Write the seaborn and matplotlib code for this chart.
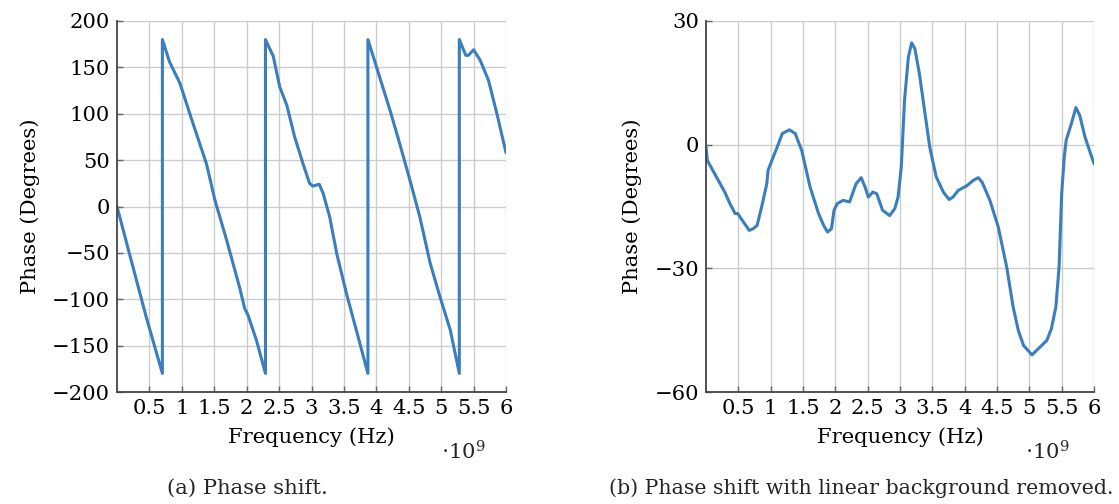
import numpy as np
import pandas as pd
import matplotlib
matplotlib.use("Agg")
import matplotlib.pyplot as plt
import seaborn as sns

# ---- data (frequency in units of 1e9 Hz) ----
freq_a = [0.0, 0.17, 0.45, 0.70, 0.70, 0.81, 0.97, 1.17, 1.38, 1.51, 1.69, 1.89, 1.97, 2.02,
          2.15, 2.29, 2.29, 2.41, 2.51, 2.62, 2.74, 2.87, 2.97, 3.02, 3.12, 3.18, 3.28, 3.39,
          3.54, 3.69, 3.87, 3.87, 4.00, 4.21, 4.36, 4.52, 4.67, 4.83, 4.98, 5.14, 5.28, 5.28,
          5.38, 5.42, 5.50, 5.60, 5.73, 5.86, 6.0]
phase_a = [0, -45, -119, -180, 180, 156, 133, 90, 46, 7, -36, -87, -110, -117,
           -144, -180, 180, 162, 129, 109, 75, 46, 25, 22, 24, 14, -11, -51,
           -94, -133, -180, 180, 151, 104, 68, 28, -11, -61, -97, -133, -180, 180,
           163, 163, 169, 158, 136, 100, 58]

freq_b = [0.0, 0.02, 0.09, 0.16, 0.22, 0.29, 0.37, 0.45, 0.49, 0.58, 0.67, 0.73, 0.79, 0.86,
          0.94, 0.96, 1.04, 1.12, 1.18, 1.29, 1.38, 1.48, 1.61, 1.74, 1.82, 1.88, 1.94, 1.98,
          2.03, 2.12, 2.22, 2.32, 2.40, 2.46, 2.51, 2.58, 2.64, 2.73, 2.84, 2.92, 2.97, 3.02,
          3.07, 3.13, 3.18, 3.23, 3.30, 3.38, 3.46, 3.56, 3.67, 3.76, 3.82, 3.90, 4.03, 4.13,
          4.21, 4.27, 4.39, 4.52, 4.65, 4.75, 4.83, 4.91, 5.04, 5.14, 5.27, 5.34, 5.41, 5.46,
          5.50, 5.54, 5.57, 5.65, 5.72, 5.78, 5.86, 5.93, 6.0]
phase_b = [-0.6, -3.8, -5.8, -7.8, -9.5, -11.5, -14.3, -16.7, -16.7, -18.8, -20.8, -20.4, -19.6, -15.1,
           -9.5, -6.2, -3.0, 0.2, 2.7, 3.6, 2.7, -1.4, -10.3, -16.7, -19.6, -21.2, -20.4, -15.9,
           -14.3, -13.5, -13.9, -9.5, -8.0, -10.3, -12.7, -11.5, -11.9, -15.9, -17.2, -15.5, -12.7, -5.4,
           10.8, 21.3, 24.7, 23.3, 17.2, 8.3, -0.6, -7.8, -11.5, -13.3, -12.7, -11.1, -10.0, -8.7,
           -8.0, -9.1, -13.5, -20.0, -29.7, -39.4, -45.1, -48.7, -51.0, -49.5, -47.5, -44.7, -39.4, -29.7,
           -11.9, -3.0, 1.1, 5.1, 9.0, 7.1, 1.9, -1.4, -4.6]

xticks = [0.5, 1, 1.5, 2, 2.5, 3, 3.5, 4, 4.5, 5, 5.5, 6]
xticklabels = ["0.5", "1", "1.5", "2", "2.5", "3", "3.5", "4", "4.5", "5", "5.5", "6"]
yticks_a = [-200, -150, -100, -50, 0, 50, 100, 150, 200]
yticks_b = [-60, -30, 0, 30]

sns.set_theme(style="whitegrid")
plt.rcParams['font.family'] = ['DejaVu Serif']
plt.rcParams['mathtext.fontset'] = 'dejavuserif'

FS = 15.2
line_color = "#3a7ebb"

fig = plt.figure(figsize=(11.19, 5.04), dpi=100)
ax1 = fig.add_axes([117/1119, 112/504, 389/1119, 371/504])
ax2 = fig.add_axes([706/1119, 112/504, 388/1119, 371/504])

def style(ax, f, p, yticks, ylim):
    df = pd.DataFrame({"f": f, "p": p})
    sns.lineplot(data=df, x="f", y="p", sort=False, estimator=None, ax=ax,
                 color=line_color, linewidth=2.2)
    ax.set_xlim(0, 6)
    ax.set_ylim(*ylim)
    ax.set_xticks(xticks)
    ax.set_xticklabels(xticklabels)
    ax.set_yticks(yticks)
    ax.set_yticklabels([("\u2212" + str(abs(v))) if v < 0 else str(v) for v in yticks])
    ax.grid(True, color="#cccccc", linewidth=1.0)
    ax.set_facecolor("white")
    for s in ["top", "right"]:
        ax.spines[s].set_visible(False)
    for s in ["left", "bottom"]:
        ax.spines[s].set_visible(True)
        ax.spines[s].set_color("#444444")
        ax.spines[s].set_linewidth(1.3)
    ax.tick_params(axis="both", which="major", direction="in", length=4, width=1,
                   color="#666666", labelsize=FS, labelcolor="black", pad=5,
                   left=True, bottom=True)
    ax.set_xlabel("Frequency (Hz)", fontsize=FS, color="black", labelpad=7)
    ax.set_ylabel("Phase (Degrees)", fontsize=FS, color="black", labelpad=9)

style(ax1, freq_a, phase_a, yticks_a, (-200, 200))
style(ax2, freq_b, phase_b, yticks_b, (-60, 30))

fig.text(463/1119, 1 - 452/504, r"$\cdot 10^9$", fontsize=FS, ha="center", va="center")
fig.text(1047/1119, 1 - 452/504, r"$\cdot 10^9$", fontsize=FS, ha="center", va="center")
fig.text(247/1119, 1 - 488/504, "(a) Phase shift.", fontsize=FS, ha="center", va="center")
fig.text(1113/1119, 1 - 488/504, "(b) Phase shift with linear background removed.", fontsize=14.8,
         ha="right", va="center")

fig.savefig("out.png", dpi=100, facecolor="white")
